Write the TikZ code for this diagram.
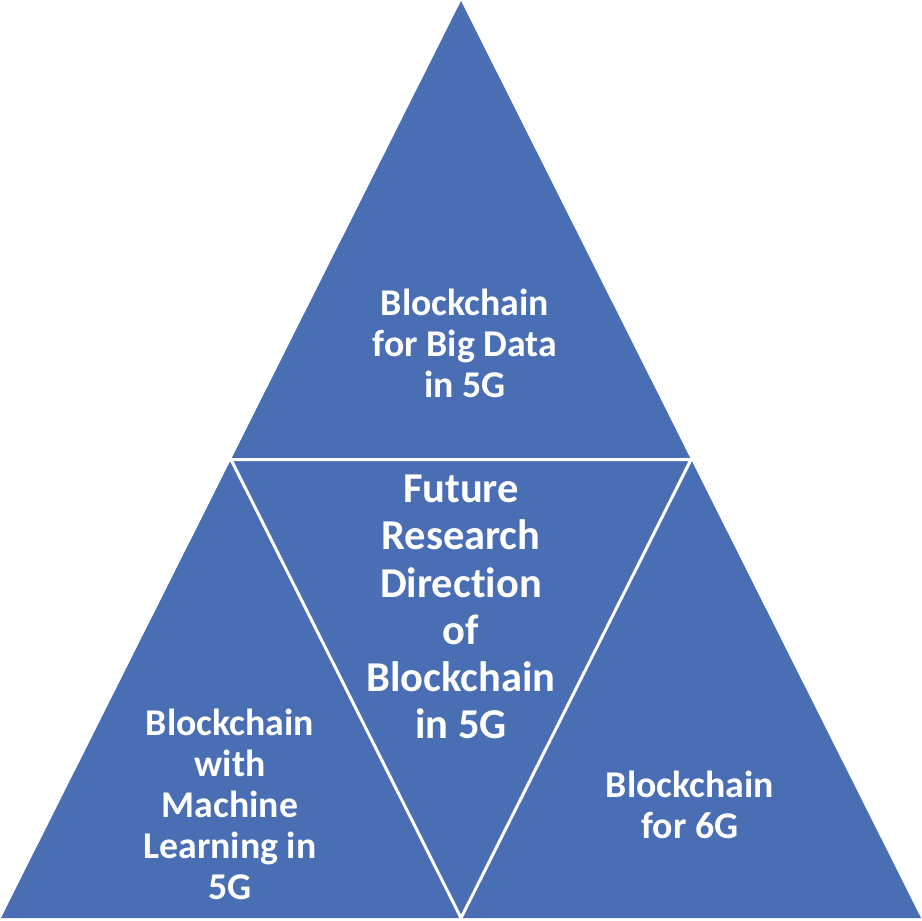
\documentclass[tikz,border=0pt]{standalone}
\usepackage{fontspec}
\setmainfont[Ligatures=NoCommon]{Carlito}
\usepackage{xcolor}
\usepackage{tikz}
\definecolor{blockblue}{HTML}{4A6EB4}

\begin{document}
\begin{tikzpicture}[
  x=0.02cm, y=-0.02cm,
  part/.style={fill=blockblue, draw=white, line width=1.7pt, line join=miter},
  lbl/.style={text=white, font=\bfseries\fontsize{21.5}{23.3}\selectfont, align=center, inner sep=0pt},
  bigl/.style={lbl, font=\bfseries\fontsize{24.2}{26.9}\selectfont},
]
  \useasboundingbox (0,0) rectangle (922,920);
  \coordinate (apex) at (461,1);
  \coordinate (bl) at (1,918);
  \coordinate (br) at (921,918);
  \coordinate (ml) at (231,459.5);
  \coordinate (mr) at (691,459.5);
  \coordinate (mb) at (461,918);
  \fill[blockblue] (apex) -- (bl) -- (br) -- cycle;
  \draw[part] (ml) -- (mr) -- (mb) -- cycle;
  \node[lbl] (bigdata) at (465,343) {Blockchain\\for Big Data\\in 5G};
  \node[bigl] (future) at (461,607) {Future\\Research\\Direction\\of\\Blockchain\\in 5G};
  \node[lbl] (ml5g) at (230,804) {Blockchain\\with\\Machine\\Learning in\\5G};
  \node[lbl] (six) at (690,805) {Blockchain\\for 6G};
\end{tikzpicture}
\end{document}
